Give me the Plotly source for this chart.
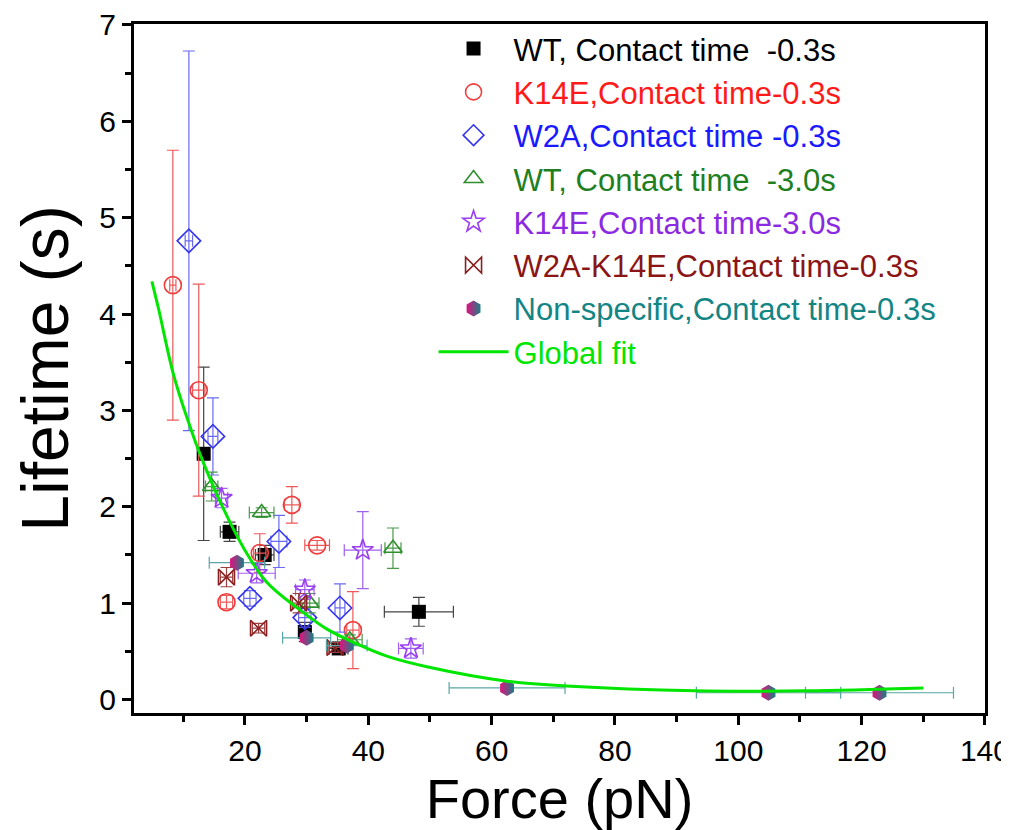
import plotly.graph_objects as go

# ---------------- data ----------------
wt03_x = [13.3, 17.5, 23.2, 29.7, 35.2, 48.2]
wt03_y = [2.55, 1.74, 1.50, 0.70, 0.53, 0.91]
wt03_ex = [0.8, 1.5, 1.5, 1.0, 1.5, 5.6]
wt03_ey = [0.90, 0.10, 0.10, 0.10, 0.05, 0.15]

k14e03_x = [8.3, 12.5, 17.0, 22.4, 27.6, 31.7, 37.5]
k14e03_y = [4.30, 3.21, 1.01, 1.52, 2.02, 1.60, 0.72]
k14e03_ex = [0.5, 1.0, 1.0, 1.0, 1.2, 2.0, 1.0]
k14e03_ey = [1.40, 1.10, 0.07, 0.20, 0.19, 0.05, 0.40]

w2a03_x = [10.9, 14.8, 20.8, 25.5, 29.7, 35.4]
w2a03_y = [4.76, 2.73, 1.05, 1.64, 0.85, 0.95]
w2a03_ex = [0.6, 0.8, 1.0, 1.3, 1.0, 0.8]
w2a03_ey = [1.97, 0.40, 0.08, 0.27, 0.10, 0.25]

wt30_x = [14.6, 22.7, 30.5, 37.0, 44.0]
wt30_y = [2.21, 1.94, 1.00, 0.62, 1.57]
wt30_ex = [1.0, 2.0, 1.5, 2.0, 1.3]
wt30_ey = [0.15, 0.05, 0.10, 0.05, 0.21]

k14e30_x = [16.2, 21.9, 29.7, 39.1, 46.9]
k14e30_y = [2.09, 1.31, 1.14, 1.55, 0.53]
k14e30_ex = [1.0, 3.0, 1.5, 3.0, 2.0]
k14e30_ey = [0.10, 0.10, 0.10, 0.40, 0.10]

w2ak14e_x = [17.0, 22.2, 28.7, 34.6]
w2ak14e_y = [1.27, 0.74, 1.00, 0.54]
w2ak14e_ex = [1.0, 1.0, 1.0, 1.0]
w2ak14e_ey = [0.10, 0.05, 0.10, 0.05]

ns_x = [18.7, 30.0, 36.5, 62.5, 104.9, 122.9]
ns_y = [1.42, 0.64, 0.56, 0.12, 0.07, 0.07]
ns_ex = [4.5, 3.9, 3.3, 9.4, 11.7, 12.0]
ns_ey = [0.03, 0.03, 0.03, 0.02, 0.02, 0.02]

fit_x = [4.9, 6.0, 8.5, 11.7, 13.5, 16.5, 19.8, 23.5, 28.7, 33.3, 37.7, 43.0, 49.5, 62.5, 72.1, 93.0, 111.0, 130.0]
fit_y = [4.34, 4.05, 3.35, 2.72, 2.42, 1.98, 1.57, 1.22, 0.94, 0.73, 0.59, 0.45, 0.34, 0.19, 0.14, 0.09, 0.09, 0.12]

names = [
    ("WT, Contact time\u00a0\u00a0-0.3s", "#000000"),
    ("K14E,Contact time-0.3s", "#ff1a1a"),
    ("W2A,Contact time -0.3s", "#1a1aff"),
    ("WT, Contact time\u00a0\u00a0-3.0s", "#1f7f1f"),
    ("K14E,Contact time-3.0s", "#8a2be2"),
    ("W2A-K14E,Contact time-0.3s", "#8b1414"),
    ("Non-specific,Contact time-0.3s", "#138585"),
    ("Global fit", "#00e600"),
]

def lbl(i):
    n, c = names[i]
    return f"<span style='color:{c}'>{n}</span>"

fig = go.Figure()

def add(x, y, ex, ey, i, symbol, mcolor, ecolor, size, lw=1.6, extra=None):
    marker = dict(symbol=symbol, size=size, color=mcolor,
                  line=dict(color=mcolor, width=lw))
    if extra:
        marker.update(extra)
    fig.add_trace(go.Scatter(
        x=x, y=y, mode="markers", name=lbl(i), marker=marker,
        error_x=dict(type="data", array=ex, color=ecolor, thickness=1.2, width=6),
        error_y=dict(type="data", array=ey, color=ecolor, thickness=1.2, width=6),
    ))

add(wt03_x, wt03_y, wt03_ex, wt03_ey, 0, "square", "#000000", "#444444", 14, lw=0)
add(k14e03_x, k14e03_y, k14e03_ex, k14e03_ey, 1, "circle-open", "#f03c3c", "#ee5a5a", 17)
add(w2a03_x, w2a03_y, w2a03_ex, w2a03_ey, 2, "diamond-open", "#3535f0", "#6a6af0", 18)
add(wt30_x, wt30_y, wt30_ex, wt30_ey, 3, "triangle-up-open", "#2f8f2f", "#4a9a4a", 16)
add(k14e30_x, k14e30_y, k14e30_ex, k14e30_ey, 4, "star-open", "#9a3ff0", "#a060f0", 16)
add(w2ak14e_x, w2ak14e_y, w2ak14e_ex, w2ak14e_ey, 5, "bowtie-open", "#8b2020", "#9a4040", 16)
add(ns_x, ns_y, ns_ex, ns_ey, 6, "hexagon", "#e0117f", "#5aa5a5", 16, lw=0,
    extra=dict(gradient=dict(type="horizontal", color="#1a7f86")))

fig.add_trace(go.Scatter(
    x=fit_x, y=fit_y, mode="lines", name=lbl(7),
    line=dict(color="#00e600", width=3, shape="spline", smoothing=1.0),
))

axis_common = dict(
    showline=True, linecolor="black", linewidth=3, mirror=True,
    ticks="outside", ticklen=9, tickwidth=2.5, tickcolor="black",
    showgrid=False, zeroline=False, automargin=False,
    tickfont=dict(family="Liberation Sans, Arial", size=30, color="black"),
)

fig.update_xaxes(
    range=[2, 140.01], tickvals=[20, 40, 60, 80, 100, 120, 140],
    minor=dict(tickvals=[10, 30, 50, 70, 90, 110, 130], ticklen=6, tickwidth=2.5, tickcolor="black"),
    title=dict(text="Force (pN)", font=dict(family="Liberation Sans, Arial", size=56, color="black"), standoff=12),
    **axis_common,
)
fig.update_yaxes(
    range=[-0.14, 7.01], tickvals=[0, 1, 2, 3, 4, 5, 6, 7],
    minor=dict(tickvals=[0.5, 1.5, 2.5, 3.5, 4.5, 5.5, 6.5], ticklen=6, tickwidth=2.5, tickcolor="black"),
    title=dict(text="Lifetime (s)", font=dict(family="Liberation Sans, Arial", size=66, color="black"), standoff=10),
    **axis_common,
)

fig.update_layout(
    width=1009, height=830,
    margin=dict(l=126, r=32, t=16, b=125),
    paper_bgcolor="white", plot_bgcolor="white",
    showlegend=True,
    legend=dict(
        x=0.352, y=1.003, xanchor="left", yanchor="top",
        bgcolor="rgba(0,0,0,0)", borderwidth=0,
        font=dict(family="Liberation Sans, Arial", size=31),
        itemwidth=70, tracegroupgap=0,
    ),
)

fig.write_html("out.html")
